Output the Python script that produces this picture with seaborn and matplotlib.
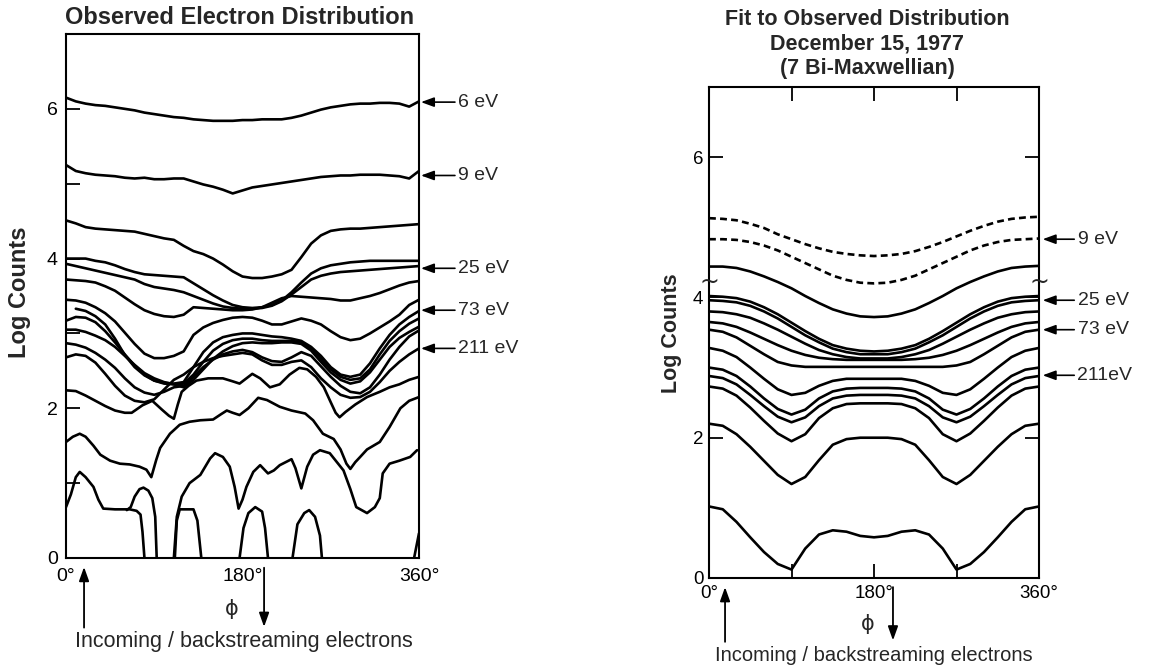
import numpy as np
import pandas as pd
import matplotlib
matplotlib.use("Agg")
import matplotlib.pyplot as plt
import seaborn as sns

# ---------------- data: observed distribution (left) ----------------
phi_obs = list(range(0, 361, 10))
obs_6ev = [6.15, 6.10, 6.07, 6.05, 6.04, 6.02, 6.00, 5.98, 5.95, 5.93,
           5.91, 5.89, 5.88, 5.86, 5.85, 5.84, 5.84, 5.84, 5.85,
           5.85, 5.86, 5.86, 5.86, 5.88, 5.91, 5.95, 5.99, 6.02,
           6.04, 6.06, 6.07, 6.07, 6.08, 6.08, 6.07, 6.03, 6.10]
obs_9ev = [5.25, 5.17, 5.14, 5.12, 5.11, 5.10, 5.08, 5.07, 5.08, 5.06,
           5.06, 5.07, 5.07, 5.03, 4.99, 4.96, 4.92, 4.87, 4.91,
           4.95, 4.97, 4.99, 5.01, 5.03, 5.05, 5.07, 5.09, 5.10,
           5.11, 5.11, 5.12, 5.12, 5.12, 5.11, 5.10, 5.07, 5.17]
obs_c3 = [4.51, 4.47, 4.42, 4.40, 4.39, 4.38, 4.37, 4.36, 4.33, 4.30,
          4.27, 4.25, 4.17, 4.10, 4.06, 4.00, 3.92, 3.83, 3.76,
          3.74, 3.74, 3.76, 3.79, 3.85, 4.02, 4.20, 4.31, 4.37,
          4.39, 4.40, 4.40, 4.41, 4.42, 4.43, 4.44, 4.45, 4.46]
obs_c4 = [4.00, 4.00, 4.00, 3.97, 3.95, 3.91, 3.86, 3.82, 3.79, 3.78,
          3.77, 3.76, 3.75, 3.67, 3.59, 3.51, 3.44, 3.38, 3.35,
          3.34, 3.35, 3.38, 3.44, 3.55, 3.68, 3.80, 3.87, 3.91,
          3.93, 3.95, 3.96, 3.97, 3.97, 3.97, 3.97, 3.97, 3.97]
obs_25ev = [3.93, 3.90, 3.87, 3.84, 3.81, 3.78, 3.75, 3.72, 3.66, 3.62,
            3.60, 3.58, 3.55, 3.50, 3.45, 3.40, 3.36, 3.34, 3.33,
            3.33, 3.34, 3.37, 3.43, 3.52, 3.62, 3.72, 3.77, 3.80,
            3.82, 3.83, 3.84, 3.85, 3.86, 3.87, 3.88, 3.89, 3.90]
obs_c6 = [3.72, 3.71, 3.70, 3.68, 3.63, 3.57, 3.48, 3.39, 3.31, 3.26,
          3.23, 3.22, 3.25, 3.35, 3.34, 3.33, 3.32, 3.31, 3.31,
          3.32, 3.35, 3.41, 3.47, 3.50, 3.49, 3.48, 3.47, 3.46,
          3.44, 3.44, 3.47, 3.50, 3.54, 3.59, 3.64, 3.68, 3.70]
obs_c7 = [3.45, 3.44, 3.41, 3.35, 3.27, 3.16, 3.01, 2.86, 2.73, 2.67,
          2.67, 2.70, 2.76, 2.98, 3.08, 3.14, 3.18, 3.21, 3.22,
          3.21, 3.17, 3.12, 3.12, 3.16, 3.20, 3.17, 3.12, 3.03,
          2.95, 2.91, 2.93, 3.00, 3.08, 3.16, 3.25, 3.38, 3.45]
obs_73ev = [np.nan, 3.33, 3.30, 3.23, 3.12, 2.93, 2.71, 2.55, 2.44, 2.37,
            2.34, 2.33, 2.35, 2.55, 2.75, 2.88, 2.95, 2.98, 3.00,
            3.00, 2.98, 2.96, 2.95, 2.93, 2.90, 2.82, 2.70, 2.55,
            2.45, 2.42, 2.45, 2.60, 2.80, 2.98, 3.12, 3.22, 3.30]
obs_c9 = [3.17, 3.22, 3.21, 3.15, 3.03, 2.88, 2.72, 2.57, 2.45, 2.37,
          2.33, 2.32, 2.33, 2.45, 2.62, 2.77, 2.86, 2.91, 2.93,
          2.93, 2.91, 2.90, 2.90, 2.90, 2.88, 2.80, 2.66, 2.52,
          2.42, 2.38, 2.40, 2.52, 2.72, 2.90, 3.03, 3.13, 3.20]
obs_c10 = [3.05, 3.05, 3.02, 2.97, 2.91, 2.82, 2.70, 2.58, 2.47, 2.40,
           2.35, 2.32, 2.28, 2.38, 2.52, 2.66, 2.76, 2.83, 2.87,
           2.88, 2.87, 2.87, 2.88, 2.88, 2.86, 2.77, 2.62, 2.48,
           2.38, 2.33, 2.36, 2.48, 2.65, 2.82, 2.94, 3.02, 3.09]
obs_c11 = [2.87, 2.85, 2.81, 2.74, 2.65, 2.54, 2.40, 2.28, 2.21, 2.18,
           2.22, 2.28, 2.30, 2.42, 2.55, 2.65, 2.72, 2.76, 2.78,
           2.75, 2.68, 2.63, 2.62, 2.68, 2.75, 2.70, 2.56, 2.42,
           2.30, 2.22, 2.20, 2.28, 2.45, 2.65, 2.82, 2.96, 3.04]
obs_211ev = [2.68, 2.72, 2.70, 2.61, 2.46, 2.30, 2.17, 2.10, 2.08, 2.12,
             2.25, 2.38, 2.45, 2.55, 2.62, 2.67, 2.70, 2.72, 2.74,
             2.72, 2.64, 2.58, 2.58, 2.62, 2.64, 2.55, 2.40, 2.28,
             2.18, 2.14, 2.15, 2.22, 2.35, 2.50, 2.62, 2.72, 2.80]

obs_c13_phi = [0, 10, 20, 30, 40, 50, 60, 67, 78, 88, 98, 105, 110, 114, 118, 125,
               133, 145, 160, 170, 177, 184, 190, 198, 208, 218, 228, 238, 246,
               255, 263, 270, 275, 279, 285, 295, 307, 320, 330, 340, 350, 360]
obs_c13 = [2.24, 2.23, 2.17, 2.10, 2.03, 1.97, 1.94, 1.94, 2.04, 2.10, 1.98, 1.90,
           1.86, 2.05, 2.22, 2.30, 2.37, 2.40, 2.40, 2.36, 2.33, 2.40, 2.46, 2.40,
           2.28, 2.32, 2.45, 2.54, 2.52, 2.42, 2.28, 2.08, 1.94, 1.88, 1.95, 2.05,
           2.15, 2.22, 2.28, 2.32, 2.38, 2.42]
obs_c14_phi = [0, 7, 14, 20, 28, 35, 45, 55, 65, 75, 82, 87, 92, 96, 106, 116, 126,
               137, 150, 158, 164, 170, 177, 186, 196, 205, 218, 230, 244, 252, 262,
               273, 280, 286, 290, 295, 300, 307, 320, 330, 341, 350, 360]
obs_c14 = [1.55, 1.62, 1.66, 1.62, 1.50, 1.38, 1.30, 1.26, 1.25, 1.22, 1.18, 1.08,
           1.31, 1.47, 1.66, 1.78, 1.82, 1.84, 1.85, 1.92, 1.97, 1.94, 1.91, 2.00,
           2.14, 2.11, 2.02, 1.97, 1.93, 1.84, 1.66, 1.59, 1.45, 1.26, 1.19, 1.28,
           1.35, 1.45, 1.55, 1.75, 2.00, 2.10, 2.15]
obs_c15_phi = [0, 5, 10, 14, 20, 28, 33, 38, 50, 65, 72, 76, 78, 80, 82, 108, 111,
               113, 116, 130, 134, 138, 140, 174, 177, 181, 186, 193, 200, 203, 206,
               208, 229, 231, 236, 243, 248, 254, 259, 261, 263, 352, 355, 360]
obs_c15 = [0.68, 0.85, 1.08, 1.15, 1.08, 0.95, 0.78, 0.66, 0.65, 0.65, 0.63, 0.58,
           0.35, 0.0, -0.5, -0.5, 0.0, 0.5, 0.65, 0.65, 0.50, 0.0, -0.5, -0.5, 0.0,
           0.40, 0.60, 0.68, 0.62, 0.40, 0.0, -0.5, -0.5, 0.0, 0.45, 0.60, 0.64,
           0.55, 0.30, 0.0, -0.5, -0.5, 0.0, 0.33]
obs_c16_phi = [104, 110, 113, 118, 126, 137, 147, 152, 160, 167, 172, 176, 180, 184,
               191, 198, 206, 212, 218, 230, 234, 240, 246, 252, 259, 269, 283, 290,
               296, 307, 315, 320, 323, 330, 340, 351, 358]
obs_c16 = [-0.6, 0.0, 0.55, 0.82, 1.00, 1.11, 1.33, 1.40, 1.35, 1.22, 0.95, 0.66,
           0.78, 0.95, 1.15, 1.24, 1.13, 1.17, 1.24, 1.32, 1.20, 0.93, 1.22, 1.38,
           1.44, 1.40, 1.17, 0.92, 0.68, 0.60, 0.68, 0.80, 1.13, 1.26, 1.30, 1.35,
           1.44]
obs_c17_phi = [62, 66, 70, 75, 79, 84, 88, 91, 92.5, 94]
obs_c17 = [0.64, 0.68, 0.82, 0.92, 0.94, 0.90, 0.80, 0.55, 0.0, -0.5]

# ---------------- data: bi-Maxwellian fit (right) ----------------
phi_fit = list(range(0, 361, 15))
fit_dash_a = [5.13, 5.12, 5.10, 5.05, 4.99, 4.90, 4.83, 4.76, 4.70, 4.65, 4.62, 4.60, 4.59,
              4.60, 4.62, 4.66, 4.72, 4.79, 4.87, 4.95, 5.02, 5.08, 5.12, 5.14, 5.15]
fit_9ev = [4.83, 4.83, 4.82, 4.79, 4.74, 4.67, 4.58, 4.49, 4.40, 4.31, 4.25, 4.21, 4.20,
           4.21, 4.25, 4.31, 4.40, 4.49, 4.58, 4.67, 4.74, 4.79, 4.82, 4.83, 4.84]
fit_s0 = [4.44, 4.44, 4.42, 4.37, 4.30, 4.22, 4.13, 4.02, 3.92, 3.83, 3.77, 3.73, 3.72,
          3.73, 3.77, 3.83, 3.92, 4.02, 4.13, 4.22, 4.30, 4.37, 4.42, 4.44, 4.45]
fit_s1 = [4.02, 4.01, 3.99, 3.94, 3.86, 3.76, 3.64, 3.52, 3.41, 3.32, 3.27, 3.24, 3.23,
          3.24, 3.27, 3.32, 3.41, 3.52, 3.64, 3.76, 3.86, 3.94, 3.99, 4.01, 4.02]
fit_25ev = [3.96, 3.95, 3.93, 3.88, 3.80, 3.70, 3.58, 3.46, 3.36, 3.27, 3.22, 3.19, 3.19,
            3.19, 3.22, 3.27, 3.36, 3.46, 3.58, 3.70, 3.80, 3.88, 3.93, 3.95, 3.96]
fit_s3 = [3.80, 3.79, 3.76, 3.71, 3.63, 3.54, 3.44, 3.34, 3.25, 3.19, 3.15, 3.13, 3.13,
          3.13, 3.15, 3.19, 3.25, 3.34, 3.44, 3.54, 3.63, 3.71, 3.76, 3.79, 3.80]
fit_s4 = [3.65, 3.63, 3.58, 3.50, 3.41, 3.32, 3.24, 3.18, 3.14, 3.12, 3.11, 3.11, 3.11,
          3.11, 3.11, 3.12, 3.14, 3.18, 3.24, 3.32, 3.41, 3.50, 3.58, 3.63, 3.65]
fit_73ev = [3.54, 3.51, 3.43, 3.31, 3.19, 3.08, 3.03, 3.01, 3.01, 3.01, 3.01, 3.01, 3.01,
            3.01, 3.01, 3.01, 3.01, 3.01, 3.03, 3.08, 3.19, 3.31, 3.43, 3.51, 3.54]
fit_s6 = [3.28, 3.24, 3.15, 3.00, 2.84, 2.69, 2.61, 2.64, 2.74, 2.81, 2.84, 2.84, 2.84,
          2.84, 2.84, 2.81, 2.74, 2.64, 2.61, 2.69, 2.84, 3.00, 3.15, 3.24, 3.28]
fit_s7 = [3.00, 2.97, 2.88, 2.73, 2.56, 2.41, 2.33, 2.40, 2.56, 2.66, 2.70, 2.71, 2.71,
          2.71, 2.70, 2.66, 2.56, 2.40, 2.33, 2.41, 2.56, 2.73, 2.88, 2.97, 3.00]
fit_211ev = [2.88, 2.85, 2.76, 2.61, 2.45, 2.30, 2.22, 2.29, 2.45, 2.56, 2.60, 2.61, 2.61,
             2.61, 2.60, 2.56, 2.45, 2.29, 2.22, 2.30, 2.45, 2.61, 2.76, 2.85, 2.88]
fit_s9 = [2.73, 2.70, 2.60, 2.43, 2.24, 2.06, 1.95, 2.05, 2.28, 2.42, 2.48, 2.49, 2.49,
          2.49, 2.48, 2.42, 2.28, 2.05, 1.95, 2.06, 2.24, 2.43, 2.60, 2.70, 2.73]
fit_s10 = [2.20, 2.17, 2.05, 1.87, 1.67, 1.47, 1.34, 1.44, 1.68, 1.90, 1.98, 2.00, 2.00,
           2.00, 1.98, 1.90, 1.68, 1.44, 1.34, 1.47, 1.67, 1.87, 2.05, 2.17, 2.20]
fit_s11 = [1.02, 0.98, 0.80, 0.58, 0.37, 0.20, 0.12, 0.42, 0.62, 0.68, 0.66, 0.60, 0.58,
           0.60, 0.66, 0.68, 0.62, 0.42, 0.12, 0.20, 0.37, 0.58, 0.80, 0.98, 1.02]

y_ticks = [0, 1, 2, 3, 4, 5, 6]
y_tick_labels = ["0", "", "2", "", "4", "", "6"]
x_ticks = [0, 180, 360]
x_tick_labels = ["0°", "180°", "360°"]
obs_labels = [("6 eV", 6.09), ("9 eV", 5.11), ("25 eV", 3.87), ("73 eV", 3.31), ("211 eV", 2.80)]
fit_labels = [("9 eV", 4.83), ("25 eV", 3.96), ("73 eV", 3.54), ("211eV", 2.89)]

# ---------------- build tables ----------------
obs_grid = {"6eV": obs_6ev, "9eV": obs_9ev, "c3": obs_c3, "c4": obs_c4, "25eV": obs_25ev,
            "c6": obs_c6, "c7": obs_c7, "73eV": obs_73ev, "c9": obs_c9, "c10": obs_c10,
            "c11": obs_c11, "211eV": obs_211ev}
obs_knots = {"c13": (obs_c13_phi, obs_c13), "c14": (obs_c14_phi, obs_c14),
             "c15": (obs_c15_phi, obs_c15), "c16": (obs_c16_phi, obs_c16),
             "c17": (obs_c17_phi, obs_c17)}
rows = []
for name, vals in obs_grid.items():
    for p, v in zip(phi_obs, vals):
        rows.append((name, p, v))
for name, (ph, vals) in obs_knots.items():
    for p, v in zip(ph, vals):
        rows.append((name, p, v))
df_obs = pd.DataFrame(rows, columns=["curve", "phi", "log_counts"]).dropna()

fit_solid = {"s0": fit_s0, "s1": fit_s1, "25eV": fit_25ev, "s3": fit_s3, "s4": fit_s4,
             "73eV": fit_73ev, "s6": fit_s6, "s7": fit_s7, "211eV": fit_211ev,
             "s9": fit_s9, "s10": fit_s10, "s11": fit_s11}
fit_dashed = {"da": fit_dash_a, "9eV": fit_9ev}
df_fit = pd.DataFrame([(n, p, v) for n, vals in fit_solid.items() for p, v in zip(phi_fit, vals)],
                      columns=["curve", "phi", "log_counts"])
df_fit_d = pd.DataFrame([(n, p, v) for n, vals in fit_dashed.items() for p, v in zip(phi_fit, vals)],
                        columns=["curve", "phi", "log_counts"])

# ---------------- style ----------------
sns.set_style("ticks")
plt.rcParams["font.family"] = ["Liberation Sans", "DejaVu Sans"]
plt.rcParams["lines.solid_joinstyle"] = "round"
plt.rcParams["lines.solid_capstyle"] = "round"

W, H = 1153, 669
fig = plt.figure(figsize=(W / 100, H / 100), dpi=100)
ax1 = fig.add_axes([66 / W, 1 - 558 / H, 353 / W, 524 / H])
ax2 = fig.add_axes([709 / W, 1 - 578 / H, 330 / W, 491 / H])

LW = 1.9
sns.lineplot(data=df_obs, x="phi", y="log_counts", units="curve", estimator=None,
             sort=False, color="black", linewidth=LW, ax=ax1, legend=False)
sns.lineplot(data=df_fit, x="phi", y="log_counts", units="curve", estimator=None,
             sort=False, color="black", linewidth=LW, ax=ax2, legend=False)
sns.lineplot(data=df_fit_d, x="phi", y="log_counts", units="curve", estimator=None,
             sort=False, color="black", linewidth=LW, linestyle=(0, (2.6, 1.6)),
             ax=ax2, legend=False)

for ax in (ax1, ax2):
    ax.set_xlim(0, 360)
    ax.set_ylim(0, 7)
    ax.set_xlabel("")
    ax.set_ylabel("")
    for s in ax.spines.values():
        s.set_visible(True)
        s.set_color("black")
        s.set_linewidth(1.5)

# left axes ticks
ax1.set_yticks(y_ticks, y_tick_labels)
ax1.set_xticks(x_ticks, x_tick_labels)
ax1.tick_params(axis="y", direction="in", length=10, width=1.3, pad=6, labelsize=14,
                left=True, right=False, colors="black")
ax1.tick_params(axis="x", length=0, pad=7, labelsize=14, colors="black")

# right axes ticks
ax2.set_yticks([0, 2, 4, 6], ["0", "2", "4", "6"])
ax2.set_xticks(x_ticks, x_tick_labels)
ax2.set_xticks([90, 270], minor=True)
ax2.tick_params(axis="y", direction="in", length=10, width=1.3, pad=4, labelsize=13.5,
                left=True, right=True, colors="black")
ax2.tick_params(axis="x", which="both", direction="in", length=10, width=1.3, pad=5,
                labelsize=13.5, top=True, bottom=True, colors="black")

# break marks on right axes
for xb in (0, 360):
    ax2.text(xb, 4.23, "~", ha="center", va="center", fontsize=17, clip_on=False,
             family=["DejaVu Sans"])

# energy labels with arrows
for lab, yv in obs_labels:
    ax1.annotate(lab, xy=(362, yv), xytext=(400, yv), ha="left", va="center", fontsize=14,
                 annotation_clip=False,
                 arrowprops=dict(arrowstyle="-|>,head_length=0.6,head_width=0.22", color="black",
                                 lw=1.2, shrinkA=0, shrinkB=0, mutation_scale=13))
for lab, yv in fit_labels:
    ax2.annotate(lab, xy=(364, yv), xytext=(402, yv), ha="left", va="center", fontsize=14,
                 annotation_clip=False,
                 arrowprops=dict(arrowstyle="-|>,head_length=0.6,head_width=0.22", color="black",
                                 lw=1.2, shrinkA=0, shrinkB=0, mutation_scale=13))

# direction arrows and phi labels
arrow_kw = dict(arrowstyle="-|>,head_length=0.7,head_width=0.25", color="black", lw=1.3,
                shrinkA=0, shrinkB=0, mutation_scale=12)
ax1.annotate("", xy=(18.4, -0.12), xytext=(18.4, -0.93), annotation_clip=False, arrowprops=arrow_kw)
ax1.annotate("", xy=(202, -0.92), xytext=(202, -0.13), annotation_clip=False, arrowprops=arrow_kw)
ax1.text(169, -0.68, "ϕ", ha="center", va="center", fontsize=15, clip_on=False,
         family=["DejaVu Sans"])
ax1.text(181.5, -1.11, "Incoming / backstreaming electrons", ha="center", va="center",
         fontsize=15.5, clip_on=False)

ax2.annotate("", xy=(17.5, -0.13), xytext=(17.5, -0.91), annotation_clip=False, arrowprops=arrow_kw)
ax2.annotate("", xy=(200.7, -0.89), xytext=(200.7, -0.13), annotation_clip=False, arrowprops=arrow_kw)
ax2.text(173.5, -0.66, "ϕ", ha="center", va="center", fontsize=15, clip_on=False,
         family=["DejaVu Sans"])
ax2.text(180, -1.10, "Incoming / backstreaming electrons", ha="center", va="center",
         fontsize=14.5, clip_on=False)

# titles and axis labels
fig.text(240 / W, 1 - 17 / H, "Observed Electron Distribution", ha="center", va="center",
         fontsize=17, fontweight="bold")
fig.text(867 / W, 1 - 44 / H, "Fit to Observed Distribution\nDecember 15, 1977\n(7 Bi-Maxwellian)",
         ha="center", va="center", fontsize=15.5, fontweight="bold", linespacing=1.2)
fig.text(20 / W, 1 - 292 / H, "Log Counts", rotation=90, ha="center", va="center",
         fontsize=17, fontweight="bold")
fig.text(672 / W, 1 - 333 / H, "Log Counts", rotation=90, ha="center", va="center",
         fontsize=15.5, fontweight="bold")

fig.savefig("out.png", dpi=100)
